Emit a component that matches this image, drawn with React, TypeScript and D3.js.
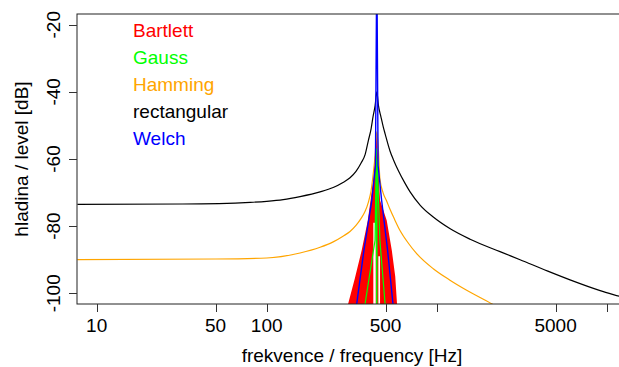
import React, { useEffect, useRef } from "react";
import * as d3 from "d3";

// Bartlett - filled band (top of the red strokes, bottom of the gaps)
const bartlettFreq = [295, 301, 330, 362, 393, 408, 423.6, 423.6, 437.5, 437.5, 444, 453.5, 453.5, 464, 464, 508, 544, 570, 584, 590];
const bartlettHigh = [-106, -103.2, -95.5, -87.2, -78.3, -72.3, -66, -66, -56, -56, -52, -63, -63, -72.3, -72.3, -78.3, -87.2, -95, -103.2, -106];
const bartlettLow = [-110, -110, -110, -110, -110, -110, -110, -79, -79, -110, -110, -110, -89, -89, -110, -110, -110, -110, -110, -110];

// Gauss
const gaussFreq = [370, 378.5, 433.6, 441, 444, 446, 463, 497, 510];
const gaussLevel = [-107, -103.3, -84.2, -57, -115, -60, -84.2, -103.3, -106];

// Hamming
const hammingFreq = [7.7, 50, 100, 157, 206, 246, 281, 309, 335, 359, 379, 396, 411, 422, 434, 444, 454, 463, 483, 508, 531, 565, 608, 681, 762, 954, 1196, 1500, 2132, 2500];
const hammingLevel = [-90.0, -89.8, -89.5, -88.0, -86.3, -84.7, -83.0, -81.6, -79.8, -77.7, -75.6, -72.9, -69.4, -64.9, -59, -51.8, -57.5, -65.8, -70, -72.6, -75, -78, -81.3, -85.1, -88.2, -92.7, -96.1, -99.1, -103.3, -105.5];

// rectangular
const rectFreq = [7.7, 32, 80, 100, 125, 157, 206, 246, 281, 309, 335, 359, 379, 396, 411, 422, 434, 444, 454, 470, 485, 497, 531, 556, 595, 650, 697, 800, 954, 1200, 1571, 2356, 3090, 4500, 6080, 9140, 11830, 14000];
const rectLevel = [-73.5, -73.4, -72.9, -72.6, -72.1, -71.2, -69.8, -68.5, -67.0, -65.6, -63.7, -61.2, -58.7, -54.5, -51, -47.4, -44.1, -40, -44, -47.5, -50.5, -52.5, -57.6, -60.2, -63.5, -67.2, -69.8, -73.8, -77.3, -80.8, -83.9, -87.6, -90.0, -93.4, -96.0, -99.2, -100.9, -102];

// Welch
const welchFreq = [330, 338, 373, 415, 436, 444, 452, 474, 514, 553, 565];
const welchLevel = [-106, -103.3, -87.2, -72.3, -62, 0, -62, -72.3, -87.2, -103.3, -106];

const legendNames = ["Bartlett", "Gauss", "Hamming", "rectangular", "Welch"];
const legendColors = ["#ff0000", "#00ff00", "#ffa500", "#000000", "#0000ff"];

const xTicks = [10, 50, 100, 500, 1000, 5000, 10000];
const xTickLabels = ["10", "50", "100", "500", "", "5000", ""];
const yTicks = [-100, -80, -60, -40, -20];

const FONT = "'Liberation Sans', Arial, Helvetica, sans-serif";

function App() {
  const ref = useRef(null);

  useEffect(() => {
    const left = 77, right = 627, top = 14, bottom = 304;
    const svg = d3.select(ref.current);
    svg.selectAll("*").remove();

    const x = d3.scaleLog().domain([7.66, 13150]).range([left, right]);
    const y = d3.scaleLinear().domain([-103.2, -16.8]).range([bottom, top]);

    svg.append("rect").attr("width", 619).attr("height", 367).attr("fill", "white");

    svg.append("defs").append("clipPath").attr("id", "plotclip")
      .append("rect").attr("x", left).attr("y", top)
      .attr("width", right - left).attr("height", bottom - top);

    const g = svg.append("g").attr("clip-path", "url(#plotclip)");

    // red band
    const band = d3.area()
      .x((d, i) => x(bartlettFreq[i]))
      .y0((d, i) => y(bartlettLow[i]))
      .y1((d) => y(d));
    g.append("path").attr("d", band(bartlettHigh)).attr("fill", "#ff0000");

    const drawLine = (freq, level, color, curve, w) => {
      const line = d3.line()
        .x((d, i) => x(freq[i]))
        .y((d) => y(d))
        .curve(curve);
      g.append("path").attr("d", line(level))
        .attr("fill", "none").attr("stroke", color)
        .attr("stroke-width", w).attr("stroke-linejoin", "round");
    };

    drawLine(hammingFreq, hammingLevel, "#ffa500", d3.curveMonotoneX, 1.2);
    drawLine(gaussFreq, gaussLevel, "#00ff00", d3.curveLinear, 1.2);
    drawLine(rectFreq, rectLevel, "#000000", d3.curveMonotoneX, 1.2);
    drawLine(welchFreq, welchLevel, "#0000ff", d3.curveLinear, 1.4);

    // box
    svg.append("rect").attr("x", left).attr("y", top)
      .attr("width", right - left).attr("height", bottom - top)
      .attr("fill", "none").attr("stroke", "#222").attr("stroke-width", 1);

    // x axis
    const xa = svg.append("g").attr("font-family", FONT).attr("font-size", 19);
    xa.selectAll("line").data(xTicks).join("line")
      .attr("x1", (d) => Math.round(x(d)) + 0.5).attr("x2", (d) => Math.round(x(d)) + 0.5)
      .attr("y1", bottom).attr("y2", bottom + 8)
      .attr("stroke", "#333");
    xa.selectAll("text").data(xTicks).join("text")
      .attr("x", (d) => x(d)).attr("y", 332)
      .attr("text-anchor", "middle")
      .text((d, i) => xTickLabels[i]);

    // y axis
    const ya = svg.append("g").attr("font-family", FONT).attr("font-size", 19);
    ya.selectAll("line").data(yTicks).join("line")
      .attr("x1", left - 8).attr("x2", left)
      .attr("y1", (d) => Math.round(y(d)) + 0.5).attr("y2", (d) => Math.round(y(d)) + 0.5)
      .attr("stroke", "#333");
    ya.selectAll("text").data(yTicks).join("text")
      .attr("transform", (d) => `translate(59.5,${y(d)}) rotate(-90)`)
      .attr("text-anchor", "middle")
      .text((d) => d);

    // titles
    svg.append("text")
      .attr("x", (left + right) / 2).attr("y", 362)
      .attr("text-anchor", "middle")
      .attr("font-family", FONT).attr("font-size", 19)
      .text("frekvence / frequency [Hz]");
    svg.append("text")
      .attr("transform", `translate(27.5,${(top + bottom) / 2}) rotate(-90)`)
      .attr("text-anchor", "middle")
      .attr("font-family", FONT).attr("font-size", 19)
      .text("hladina / level [dB]");

    // legend
    svg.append("g").attr("font-family", FONT).attr("font-size", 19)
      .selectAll("text").data(legendNames).join("text")
      .attr("x", 133).attr("y", (d, i) => 37 + i * 27)
      .attr("fill", (d, i) => legendColors[i])
      .text((d) => d);
  }, []);

  return (
    <div>
      <style>{"body{margin:0}"}</style>
      <svg ref={ref} width={619} height={367} style={{ display: "block" }} />
    </div>
  );
}

export default App;
